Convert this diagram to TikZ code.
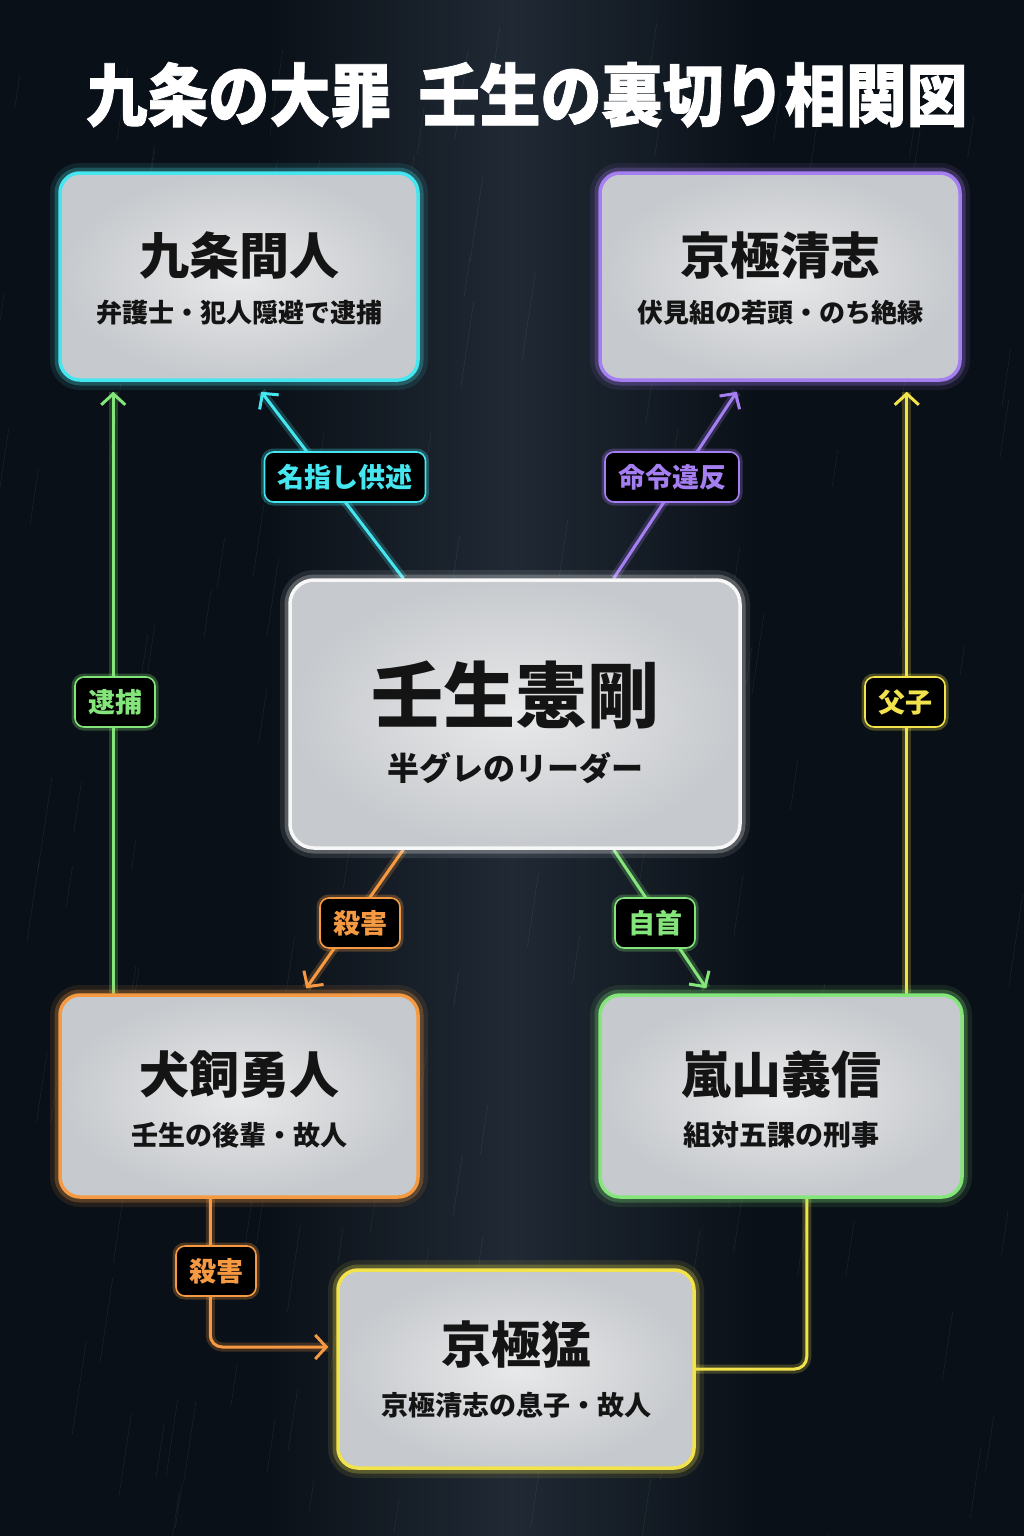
\documentclass[tikz,border=0pt]{standalone}
\usepackage{fontspec}
\setmainfont{Noto Sans CJK JP}
\newfontfamily\titlefont{Noto Sans CJK JP}[BoldFeatures={FakeBold=1.2}]
\usetikzlibrary{arrows.meta,calc}
\pgfdeclarelayer{bglayer}
\pgfdeclarelayer{edgelayer}
\pgfsetlayers{bglayer,edgelayer,main}
\definecolor{cCyan}{HTML}{45E6F0}
\definecolor{cPurple}{HTML}{A57EF2}
\definecolor{cGreen}{HTML}{84E67A}
\definecolor{cYellow}{HTML}{F2E24C}
\definecolor{cOrange}{HTML}{F59A42}
\definecolor{cWhite}{HTML}{F7F7F7}
\definecolor{bgDark}{HTML}{0A1017}
\definecolor{bgMid}{HTML}{26303C}
\definecolor{boxIn}{HTML}{E8E9EA}
\definecolor{boxOut}{HTML}{C6C9CD}
\definecolor{inkDark}{HTML}{141414}
\begin{document}
\begin{tikzpicture}[x=1pt,y=-1pt,
  card/.style={rectangle, rounded corners=20pt, draw=#1, line width=3.5pt,
    inner color=boxIn, outer color=boxOut,
    preaction={draw=#1, line width=20pt, opacity=0.10},
    preaction={draw=#1, line width=11pt, opacity=0.25}},
  ttlA/.style={text=inkDark, font=\fontsize{50}{54}\selectfont\bfseries, inner sep=0pt},
  subA/.style={text=inkDark, font=\fontsize{26}{30}\selectfont\bfseries, inner sep=0pt},
  edgeline/.style={draw=#1, line width=3pt, line cap=round,
    preaction={draw=#1, -, line width=9pt, opacity=0.22}},
  arr/.style={-{Straight Barb[length=11pt,width=24pt,line width=3pt]}},
  lbl/.style={fill=black, draw=#1, text=#1, line width=1.6pt, rounded corners=9pt,
    font=\fontsize{27}{30}\selectfont\bfseries, inner xsep=13pt, inner ysep=0pt,
    minimum height=50pt,
    preaction={draw=#1, line width=7pt, opacity=0.28}}
]
\useasboundingbox (0,0) rectangle (1024,1536);
\begin{pgfonlayer}{bglayer}
  \fill[bgDark] (0,0) rectangle (1024,1536);
  \shade[left color=bgDark, right color=bgMid, opacity=0.8] (260,0) rectangle (512,1536);
  \shade[left color=bgMid, right color=bgDark, opacity=0.8] (512,0) rectangle (764,1536);
  \pgfmathsetseed{7}
  \foreach \i in {1,...,140}{
    \pgfmathsetmacro\rx{rnd*1024}
    \pgfmathsetmacro\ry{rnd*1536}
    \pgfmathsetmacro\rl{25+rnd*70}
    \draw[white, opacity=0.07, line width=0.6pt] (\rx,\ry) -- ++(-0.15*\rl,\rl);
  }
\end{pgfonlayer}

% title
\node[text=white, font=\titlefont\fontsize{61}{64}\selectfont\bfseries, inner sep=0pt] (title) at (527,95)
  {\scalebox{1}[1.12]{九条の大罪\hspace{0.45em}壬生の裏切り相関図}};

% person cards
\node[card=cCyan, minimum width=358pt, minimum height=207pt] (kujo) at (239,276.5) {};
\node[ttlA] (kujoT) at ([yshift=21pt]kujo.center) {九条間人};
\node[subA] (kujoS) at ([yshift=-36pt]kujo.center) {弁護士・犯人隠避で逮捕};

\node[card=cPurple, minimum width=360pt, minimum height=207pt] (kiyo) at (780,276.5) {};
\node[ttlA] (kiyoT) at ([yshift=21pt]kiyo.center) {京極清志};
\node[subA] (kiyoS) at ([yshift=-36pt]kiyo.center) {伏見組の若頭・のち絶縁};

\node[card=cWhite, minimum width=450pt, minimum height=268pt, rounded corners=24pt] (mibu) at (515,714) {};
\node[ttlA, font=\fontsize{72}{76}\selectfont\bfseries] (mibuT) at ([yshift=19pt]mibu.center) {壬生憲剛};
\node[subA, font=\fontsize{32}{36}\selectfont\bfseries] (mibuS) at ([yshift=-54pt]mibu.center) {半グレのリーダー};

\node[card=cOrange, minimum width=358pt, minimum height=202pt] (inu) at (239,1096) {};
\node[ttlA] (inuT) at ([yshift=21pt]inu.center) {犬飼勇人};
\node[subA, font=\fontsize{27}{30}\selectfont\bfseries] (inuS) at ([yshift=-39pt]inu.center) {壬生の後輩・故人};

\node[card=cGreen, minimum width=362pt, minimum height=202pt] (arashi) at (781,1096) {};
\node[ttlA] (arashiT) at ([yshift=21pt]arashi.center) {嵐山義信};
\node[subA, font=\fontsize{28}{30}\selectfont\bfseries] (arashiS) at ([yshift=-39pt]arashi.center) {組対五課の刑事};

\node[card=cYellow, minimum width=356pt, minimum height=198pt] (mo) at (516,1369) {};
\node[ttlA] (moT) at ([yshift=24pt]mo.center) {京極猛};
\node[subA, font=\fontsize{27}{30}\selectfont\bfseries] (moS) at ([yshift=-36pt]mo.center) {京極清志の息子・故人};

% connectors
\begin{pgfonlayer}{edgelayer}
  \draw[edgeline=cCyan, arr] ([xshift=115pt]mibu.north west) -- ([xshift=203pt,yshift=-10pt]kujo.south west);
  \draw[edgeline=cPurple, arr] ([xshift=-128pt]mibu.north east) -- ([xshift=-225pt,yshift=-10pt]kiyo.south east);
  \draw[edgeline=cGreen, arr] ([xshift=55pt]inu.north west) -- ([xshift=55pt,yshift=-10pt]kujo.south west);
  \draw[edgeline=cYellow, arr] ([xshift=-57pt]arashi.north east) -- ([xshift=-55pt,yshift=-10pt]kiyo.south east);
  \draw[edgeline=cOrange, arr] ([xshift=115pt]mibu.south west) -- ([xshift=248pt,yshift=5pt]inu.north west);
  \draw[edgeline=cGreen, arr] ([xshift=-128pt]mibu.south east) -- ([xshift=108pt,yshift=5pt]arashi.north west);
  \draw[edgeline=cOrange, arr, rounded corners=12pt] ([xshift=152pt]inu.south west) |- ([xshift=-8pt,yshift=22pt]mo.west);
  \draw[edgeline=cYellow, rounded corners=12pt] ([xshift=-157pt]arashi.south east) |- (mo.east);
\end{pgfonlayer}

% relation labels
\node[lbl=cCyan] (l1) at (345,477) {名指し供述};
\node[lbl=cPurple] (l2) at (672,477) {命令違反};
\node[lbl=cGreen] (l3) at (115,702) {逮捕};
\node[lbl=cYellow] (l4) at (905,702) {父子};
\node[lbl=cOrange] (l5) at (360,923) {殺害};
\node[lbl=cGreen] (l6) at (655,923) {自首};
\node[lbl=cOrange] (l7) at (216,1271) {殺害};
\end{tikzpicture}
\end{document}
